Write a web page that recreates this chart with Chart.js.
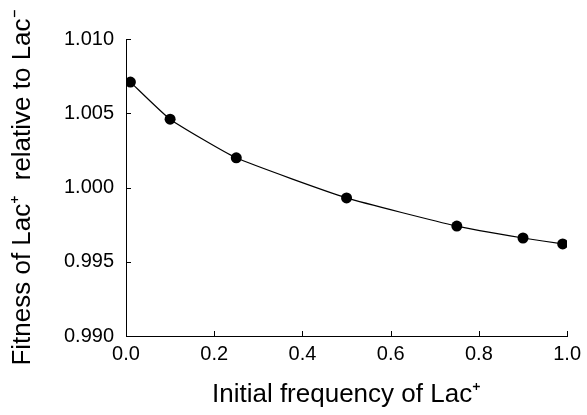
<!DOCTYPE html>
<html>
<head>
<meta charset="utf-8">
<script src="https://cdn.jsdelivr.net/npm/chart.js@4.4.0/dist/chart.umd.min.js"></script>
<style>
  html, body { margin: 0; padding: 0; background: #fff; }
  #wrap { width: 587px; height: 415px; }
</style>
</head>
<body>
<div id="wrap"><canvas id="chart" width="587" height="415"></canvas></div>
<script>
// initial frequency of Lac+ and measured fitness
var freqs = [0.01, 0.1, 0.25, 0.5, 0.75, 0.9, 0.99];
var fitness = [1.0071, 1.0046, 1.0020, 0.9993, 0.9974, 0.9966, 0.9962];

var xTitle = 'Initial frequency of Lac\u207A';
var yTitle = 'Fitness of Lac\u207A  relative to Lac\u207B';

var points = [];
for (let i = 0; i < freqs.length; i++) {
    points.push({x: freqs[i], y: fitness[i]});
}

// small tick marks pointing into the plot, like the original figure
var innerTicks = {
    id: 'innerTicks',
    afterDraw: function(chart) {
        var ctx = chart.ctx;
        var area = chart.chartArea;
        var xs = chart.scales.x, ys = chart.scales.y;
        ctx.save();
        ctx.strokeStyle = '#000';
        ctx.lineWidth = 1;
        ctx.beginPath();
        xs.ticks.forEach(function(t) {
            var px = Math.round(xs.getPixelForValue(t.value)) + 0.5;
            ctx.moveTo(px, area.bottom);
            ctx.lineTo(px, area.bottom - 5);
        });
        ys.ticks.forEach(function(t) {
            var py = Math.round(ys.getPixelForValue(t.value)) + 0.5;
            ctx.moveTo(area.left, py);
            ctx.lineTo(area.left + 5, py);
        });
        ctx.stroke();
        ctx.restore();
    }
};

const chart = new Chart(document.getElementById('chart'), {
    type: 'line',
    data: {
        datasets: [{
            data: points,
            borderColor: '#000',
            borderWidth: 1.2,
            backgroundColor: '#000',
            pointRadius: 5.5,
            pointBackgroundColor: '#000',
            pointBorderWidth: 0,
            tension: 0.15,
            fill: false
        }]
    },
    options: {
        responsive: false,
        animation: false,
        layout: { padding: { top: 39, right: 14, left: 0, bottom: 0 } },
        plugins: { legend: { display: false }, tooltip: { enabled: false } },
        scales: {
            x: {
                type: 'linear',
                min: 0, max: 1,
                afterFit: function(s) { s.height = 79; },
                border: { color: '#000', width: 1 },
                grid: { drawOnChartArea: false, drawTicks: false },
                ticks: {
                    stepSize: 0.2,
                    padding: 6,
                    color: '#000',
                    font: { family: 'Liberation Sans', size: 20 },
                    callback: function(v) { return v.toFixed(1); }
                },
                title: {
                    display: true,
                    text: xTitle,
                    color: '#000',
                    font: { family: 'Liberation Sans', size: 26 },
                    padding: { top: 0, bottom: 5 }
                }
            },
            y: {
                min: 0.990, max: 1.010,
                afterFit: function(s) { s.width = 126; },
                border: { color: '#000', width: 1 },
                grid: { drawOnChartArea: false, drawTicks: false },
                ticks: {
                    stepSize: 0.005,
                    padding: 12,
                    color: '#000',
                    font: { family: 'Liberation Sans', size: 20 },
                    callback: function(v) { return v.toFixed(3); }
                },
                title: {
                    display: true,
                    text: yTitle,
                    color: '#000',
                    font: { family: 'Liberation Sans', size: 26 },
                    padding: { top: 7, bottom: 0 }
                }
            }
        }
    },
    plugins: [innerTicks]
});
</script>
</body>
</html>
